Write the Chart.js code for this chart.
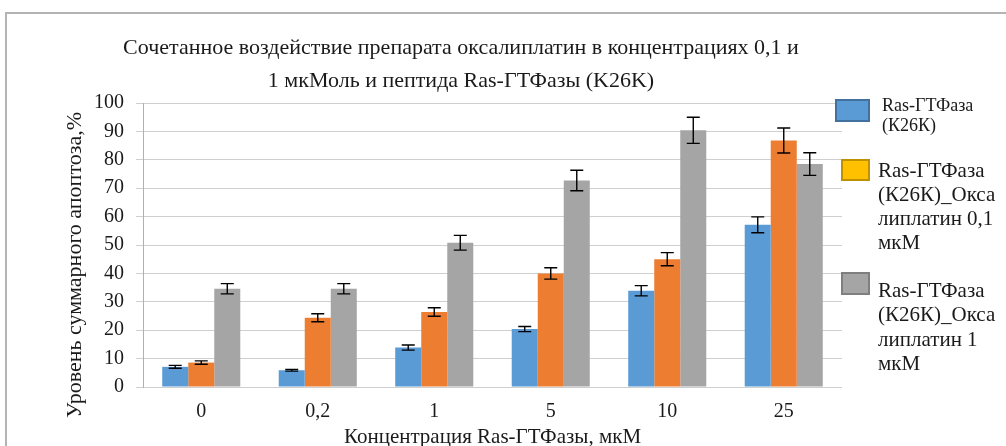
<!DOCTYPE html>
<html lang="ru">
<head>
<meta charset="utf-8">
<title>Ras-ГТФаза</title>
<script src="https://cdn.jsdelivr.net/npm/chart.js@4.4.1/dist/chart.umd.min.js"></script>
<style>
    html, body { margin: 0; padding: 0; background: #fff; overflow: hidden; }
    body { width: 1006px; height: 446px; position: relative; font-family: "Liberation Serif", "Times New Roman", serif; color: #1a1a1a; }
    #frame { position: absolute; left: 5px; top: 12px; width: 1100px; height: 600px; border-left: 2px solid #b4b4b4; border-top: 2px solid #b4b4b4; }
    #wrap { position: absolute; left: 0; top: 0; width: 1006px; height: 470px; }
    #title { position: absolute; left: 0; top: 30px; width: 922px; text-align: center; font-size: 22px; line-height: 33px; white-space: nowrap; }
    #ytitle { position: absolute; left: 74px; top: 265px; font-size: 22px; line-height: 1; white-space: nowrap; transform: translate(-50%, -50%) rotate(-90deg); }
    .swatch { position: absolute; box-sizing: border-box; border: 2px solid; }
    .ltext { position: absolute; white-space: nowrap; }
</style>
</head>
<body>
<div id="frame"></div>
<div id="wrap"><canvas id="apoptosisChart"></canvas></div>
<div id="title">Сочетанное воздействие препарата оксалиплатин в концентрациях 0,1 и<br>1 мкМоль и пептида Ras-ГТФазы (K26K)</div>
<div id="ytitle"></div>
<div id="legend"></div>

<script>
// ---------------- Data ----------------
const categories = ["0", "0,2", "1", "5", "10", "25"];

const xAxisTitle = "Концентрация Ras-ГТФазы, мкМ";
const yAxisTitle = "Уровень суммарного апоптоза,%";

const seriesNames = [
    ["Ras-ГТФаза", "(К26К)"],
    ["Ras-ГТФаза", "(К26К)_Окса", "липлатин 0,1", "мкМ"],
    ["Ras-ГТФаза", "(К26К)_Окса", "липлатин 1", "мкМ"]
];

const rasValues = [7.1, 5.9, 13.9, 20.4, 33.9, 57.1];
const rasErrors = [0.5, 0.3, 0.9, 0.9, 1.8, 2.8];

const oxa01Values = [8.6, 24.4, 26.4, 40.0, 45.0, 86.8];
const oxa01Errors = [0.6, 1.4, 1.5, 2.0, 2.3, 4.4];

const oxa1Values = [34.6, 34.6, 50.8, 72.7, 90.4, 78.5];
const oxa1Errors = [1.8, 1.8, 2.6, 3.6, 4.6, 4.0];

const barColors = ["#5b9bd5", "#ed7d31", "#a5a5a5"];
// legend swatches as in the original file (second one is yellow)
const legendFill = ["#5b9bd5", "#ffc000", "#a5a5a5"];
const legendEdge = ["#41719c", "#bf9000", "#7f7f7f"];

const serif = "'Liberation Serif', 'Times New Roman', serif";

document.getElementById("ytitle").textContent = yAxisTitle;

// ---------------- Legend (html) ----------------
const legendBox = document.getElementById("legend");
const legendLayout = [
    { sx: 835, sy: 99, sw: 35, sh: 23, tx: 882, ty: 95, size: 18, lh: 20 },
    { sx: 841, sy: 159, sw: 29, sh: 22, tx: 878, ty: 158, size: 21, lh: 24 },
    { sx: 841, sy: 272, sw: 29, sh: 23, tx: 878, ty: 278, size: 21, lh: 24.3 }
];

legendLayout.forEach((l, i) => {
    const sw = document.createElement("div");
    sw.className = "swatch";
    sw.style.cssText = `left:${l.sx}px;top:${l.sy}px;width:${l.sw}px;height:${l.sh}px;background:${legendFill[i]};border-color:${legendEdge[i]};`;
    legendBox.appendChild(sw);

    const tx = document.createElement("div");
    tx.className = "ltext";
    tx.style.cssText = `left:${l.tx}px;top:${l.ty}px;font-size:${l.size}px;line-height:${l.lh}px;`;
    tx.innerHTML = seriesNames[i].join("<br>");
    legendBox.appendChild(tx);
});

// ---------------- Error bars plugin ----------------
const errorSets = [rasErrors, oxa01Errors, oxa1Errors];

const errorBars = {
    id: "errorBars",
    afterDatasetsDraw(chart) {
        const ctx = chart.ctx;
        const yScale = chart.scales.y;
        ctx.save();
        ctx.strokeStyle = "#000";
        ctx.lineWidth = 1.4;
        chart.data.datasets.forEach((ds, di) => {
            const meta = chart.getDatasetMeta(di);
            meta.data.forEach((bar, i) => {
                const v = ds.data[i];
                const e = errorSets[di][i];
                const yHi = yScale.getPixelForValue(v + e);
                const yLo = yScale.getPixelForValue(v - e);
                const x = bar.x;
                const cap = 6.5;
                ctx.beginPath();
                ctx.moveTo(x, yHi); ctx.lineTo(x, yLo);
                ctx.moveTo(x - cap, yHi); ctx.lineTo(x + cap, yHi);
                ctx.moveTo(x - cap, yLo); ctx.lineTo(x + cap, yLo);
                ctx.stroke();
            });
        });
        ctx.restore();
    }
};

// ---------------- Chart ----------------
const ctx = document.getElementById("apoptosisChart").getContext("2d");

new Chart(ctx, {
    type: "bar",
    data: {
        labels: categories,
        datasets: [
            { label: seriesNames[0].join(" "), data: rasValues, backgroundColor: barColors[0] },
            { label: seriesNames[1].join(" "), data: oxa01Values, backgroundColor: barColors[1] },
            { label: seriesNames[2].join(" "), data: oxa1Values, backgroundColor: barColors[2] }
        ]
    },
    options: {
        responsive: true,
        maintainAspectRatio: false,
        animation: false,
        categoryPercentage: 0.67,
        barPercentage: 1.0,
        layout: {
            padding: { left: 60, right: 164, top: 103, bottom: 0 }
        },
        scales: {
            x: {
                grid: { display: false, drawTicks: false },
                border: { display: false },
                ticks: { color: "#1a1a1a", padding: 13, font: { family: serif, size: 20 } },
                title: {
                    display: true,
                    text: xAxisTitle,
                    color: "#1a1a1a",
                    font: { family: serif, size: 21 },
                    padding: { top: 0, bottom: 20 }
                },
                afterFit(scale) { scale.height = 83; }
            },
            y: {
                min: 0,
                max: 100,
                ticks: { stepSize: 10, color: "#1a1a1a", padding: 12, font: { family: serif, size: 20 } },
                grid: { color: "#cfcfcf", lineWidth: 1, tickLength: 7, drawTicks: true },
                border: { display: true, color: "#b0b0b0", width: 1 },
                afterFit(scale) { scale.width = 83; }
            }
        },
        plugins: {
            legend: { display: false },
            tooltip: { enabled: false }
        }
    },
    plugins: [errorBars]
});
</script>
</body>
</html>
